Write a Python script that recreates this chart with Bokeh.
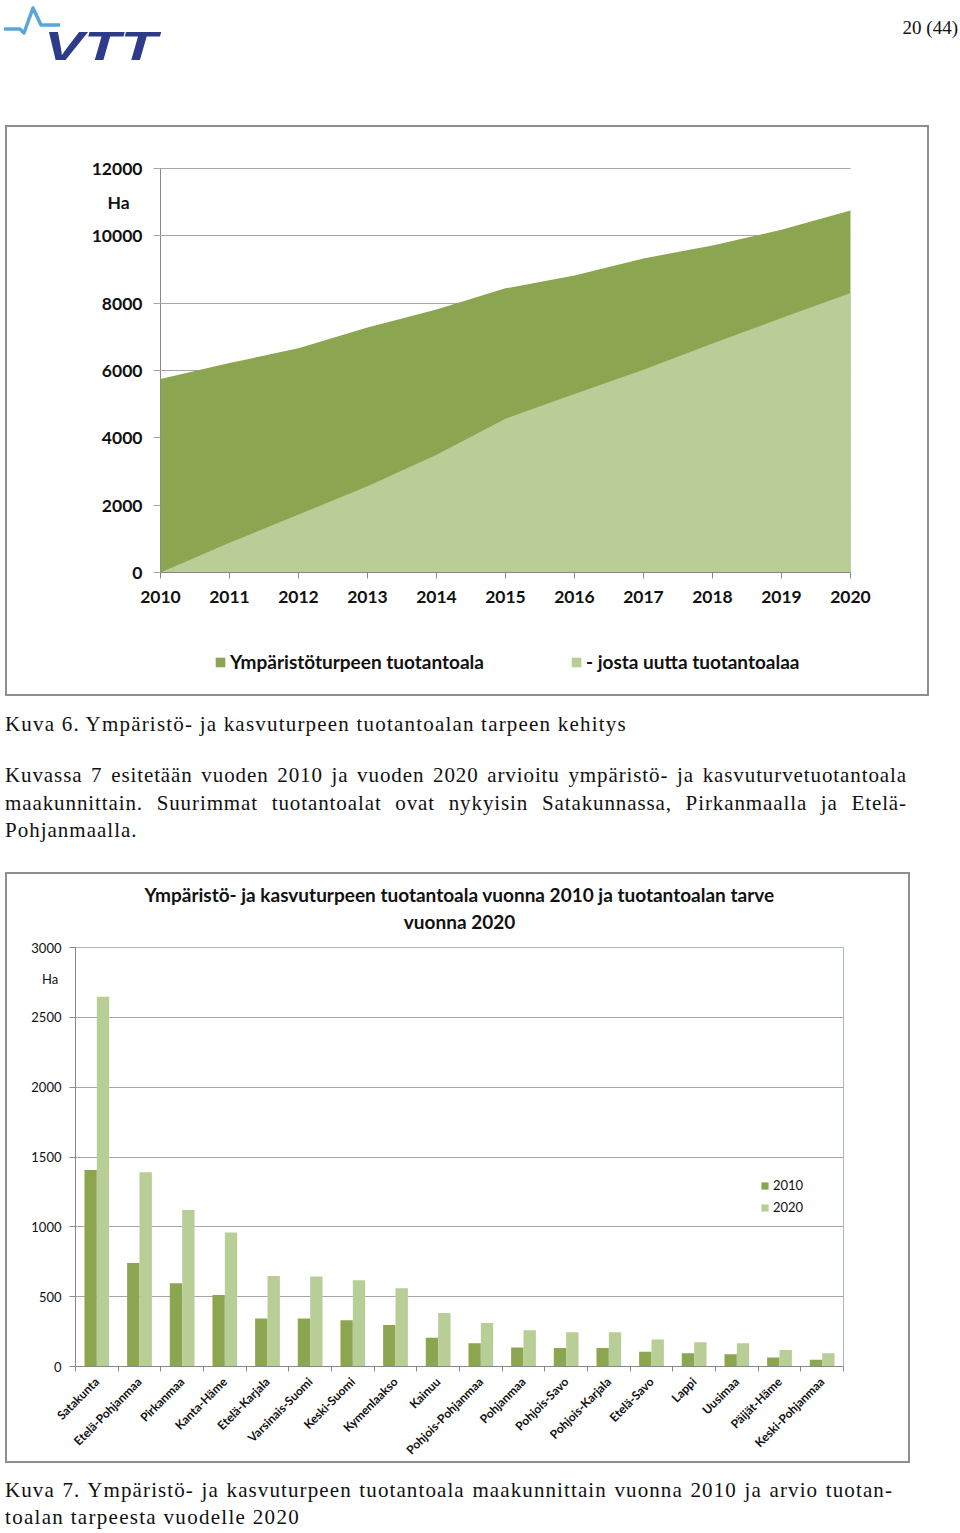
import math
from bokeh.plotting import figure
from bokeh.models import (Div, Range1d, FixedTicker, Legend, LegendItem, Title, LinearAxis,
                          ColumnDataSource)
from bokeh.layouts import column
from bokeh.transform import dodge
from bokeh.embed import file_html
from bokeh.resources import INLINE

# ---------------- data: Kuva 6 ----------------
years = [2010, 2011, 2012, 2013, 2014, 2015, 2016, 2017, 2018, 2019, 2020]
production_area = [5750, 6220, 6660, 7280, 7810, 8440, 8820, 9330, 9710, 10180, 10750]
new_area = [0, 880, 1720, 2560, 3500, 4570, 5300, 6020, 6800, 7560, 8300]
chart1_yticks = [0, 2000, 4000, 6000, 8000, 10000, 12000]
chart1_legend = ["Ympäristöturpeen tuotantoala", "- josta uutta tuotantoalaa"]
chart1_unit = "Ha"
chart1_unit_at = 11000

# ---------------- data: Kuva 7 ----------------
regions = ["Satakunta", "Etelä-Pohjanmaa", "Pirkanmaa", "Kanta-Häme", "Etelä-Karjala",
           "Varsinais-Suomi", "Keski-Suomi", "Kymenlaakso", "Kainuu", "Pohjois-Pohjanmaa",
           "Pohjanmaa", "Pohjois-Savo", "Pohjois-Karjala", "Etelä-Savo", "Lappi", "Uusimaa",
           "Päijät-Häme", "Keski-Pohjanmaa"]
area_2010 = [1407, 741, 596, 512, 343, 343, 331, 298, 205, 167, 136, 133, 133, 105, 95, 88, 64, 48]
area_2020 = [2648, 1391, 1121, 960, 648, 645, 617, 560, 383, 312, 260, 245, 245, 193, 174, 167, 119, 95]
chart2_yticks = [0, 500, 1000, 1500, 2000, 2500, 3000]
series_names = ["2010", "2020"]
chart2_title = ["Ympäristö- ja kasvuturpeen tuotantoala vuonna 2010 ja tuotantoalan tarve",
                "vuonna 2020"]
chart2_unit = "Ha"
chart2_unit_at = 2771

DARK = "#8BA551"
LIGHT = "#B9CD96"
GRID = "#A6A6A6"
AXIS = "#888888"
FONT = "Lato"
SERIF = "'Liberation Serif', 'Times New Roman', serif"
FRAME_BORDER = {"border": "2px solid #8E8E8E"}
NB = "\u00a0"
# the plot frame of Kuva 6 is larger than the data area so that the axis
# labels and the legend can be drawn inside it
Y1_FLOOR, Y1_CEIL = -3505, 12386
X1_LO, X1_HI = 2008.957, 2020.435


def no_frame_align(p):
    try:
        p.frame_align = False
    except Exception:
        pass


# ---------------- header ----------------
header_html = f"""
<div style="position:relative;width:960px;height:125px;">
  <svg style="position:absolute;left:0px;top:0px;overflow:visible" width="170" height="70">
    <polyline points="4,29 20,29 24,33 33,8 41,25 60,25" fill="none" stroke="#5AA5DA"
      stroke-width="3.5" stroke-linejoin="round"/>
    <text x="44" y="60" font-family="Liberation Sans" font-weight="bold" font-style="italic"
      font-size="41" fill="#2E3A8A" textLength="113" lengthAdjust="spacingAndGlyphs">VTT</text>
  </svg>
  <div style="position:absolute;right:2px;top:17px;font-family:{SERIF};font-size:19px;
    line-height:22px;color:#111;">20 (44)</div>
</div>
"""
header = Div(text=header_html, width=960, height=125, margin=0)

# ---------------- Kuva 6 ----------------
p1 = figure(width=924, height=571, x_range=Range1d(X1_LO, X1_HI),
            y_range=Range1d(Y1_FLOOR, Y1_CEIL),
            output_backend="svg", toolbar_location=None, min_border_left=81,
            min_border_right=51, min_border_top=28, min_border_bottom=8,
            outline_line_color=None, margin=(0, 0, 0, 5), title_location=None)
no_frame_align(p1)
p1.styles = FRAME_BORDER
r_total = p1.varea(x=years, y1=0, y2=production_area, fill_color=DARK)
r_new = p1.varea(x=years, y1=0, y2=new_area, fill_color=LIGHT)

p1.xgrid.visible = False
p1.ygrid.visible = False
xa = p1.xaxis[0]
xa.ticker = FixedTicker(ticks=years)
xa.fixed_location = 0
xa.bounds = (years[0], years[-1])
xa.axis_line_color = AXIS
xa.major_tick_line_color = AXIS
xa.minor_tick_line_color = None
xa.major_tick_in = 0
xa.major_tick_out = 6
xa.major_label_standoff = 13
xa.major_label_text_font = FONT
xa.major_label_text_font_size = "17.5px"
xa.major_label_text_font_style = "bold"
xa.major_label_text_color = "#111111"

# y axis at 2010: its long ticks, drawn beneath the areas, act as the grid lines
ya = p1.yaxis[0]
ya.ticker = FixedTicker(ticks=chart1_yticks)
ya.fixed_location = years[0]
ya.bounds = (0, 12000)
ya.level = "underlay"
ya.major_label_overrides = {t: "" for t in chart1_yticks}
ya.axis_line_color = AXIS
ya.major_tick_line_color = GRID
ya.minor_tick_line_color = None
ya.major_tick_in = 690
ya.major_tick_out = 7
ya.major_label_standoff = 0
# labels and the unit
ya_labels = LinearAxis(ticker=FixedTicker(ticks=chart1_yticks + [chart1_unit_at]),
                       major_label_overrides={chart1_unit_at: chart1_unit + NB * 3},
                       fixed_location=years[0],
                       axis_line_color=None, major_tick_line_color=None,
                       minor_tick_line_color=None, major_tick_in=0, major_tick_out=0,
                       major_label_standoff=18, major_label_text_font=FONT,
                       major_label_text_font_size="17.5px", major_label_text_font_style="bold",
                       major_label_text_color="#111111")
p1.add_layout(ya_labels, "left")

leg1 = Legend(items=[LegendItem(label=chart1_legend[0], renderers=[r_total]),
                     LegendItem(label=chart1_legend[1], renderers=[r_new])],
              orientation="horizontal", location=(126, 17), spacing=86, padding=0, margin=0,
              glyph_width=12, glyph_height=12, label_standoff=4, label_height=20,
              label_text_font=FONT, label_text_font_size="19px", label_text_font_style="bold",
              label_text_color="#111111", border_line_color=None, background_fill_alpha=0)
p1.add_layout(leg1)

# ---------------- texts between charts ----------------
J = "text-align:justify;text-align-last:justify;"
text_html = f"""
<div style="position:relative;width:960px;height:176px;font-family:{SERIF};font-size:21px;
  line-height:24px;color:#111;">
  <div style="position:absolute;left:5px;top:16px;white-space:nowrap;letter-spacing:1.2px;">Kuva 6. Ympäristö- ja kasvuturpeen tuotantoalan tarpeen kehitys</div>
  <div style="position:absolute;left:5px;top:67px;width:902px;letter-spacing:0.9px;{J}">Kuvassa 7 esitetään vuoden 2010 ja vuoden 2020 arvioitu ympäristö- ja kasvuturvetuotantoala</div>
  <div style="position:absolute;left:5px;top:95px;width:902px;letter-spacing:0.9px;{J}">maakunnittain. Suurimmat tuotantoalat ovat nykyisin Satakunnassa, Pirkanmaalla ja Etelä-</div>
  <div style="position:absolute;left:5px;top:122px;white-space:nowrap;letter-spacing:1px;">Pohjanmaalla.</div>
</div>
"""
text_div = Div(text=text_html, width=960, height=176, margin=0)

# ---------------- Kuva 7 ----------------
n = len(regions)
centers = [i + 0.5 for i in range(n)]
bounds = list(range(n + 1))
p2 = figure(width=905, height=591, x_range=Range1d(0, n), y_range=Range1d(0, 3000),
            output_backend="svg", toolbar_location=None, min_border_left=68,
            min_border_right=69, min_border_top=73, min_border_bottom=98,
            outline_line_color="#A9B8C8", margin=(0, 0, 0, 5), title_location=None)
no_frame_align(p2)
p2.styles = FRAME_BORDER
src = ColumnDataSource(dict(pos=centers, region=regions, a2010=area_2010, a2020=area_2020))
r10 = p2.vbar(x=dodge("pos", -0.145), top="a2010", width=0.29, source=src,
              fill_color=DARK, line_color=None)
r20 = p2.vbar(x=dodge("pos", 0.145), top="a2020", width=0.29, source=src,
              fill_color=LIGHT, line_color=None)

xb = p2.xaxis[0]
xb.ticker = FixedTicker(ticks=centers, minor_ticks=bounds)
xb.major_label_overrides = {c: r for c, r in zip(centers, regions)}
xb.major_tick_line_color = None
xb.major_tick_out = 0
xb.minor_tick_line_color = AXIS
xb.minor_tick_in = 0
xb.minor_tick_out = 5
xb.major_label_orientation = math.pi / 4
xb.major_label_standoff = 8
xb.major_label_text_font = FONT
xb.major_label_text_font_size = "12px"
xb.major_label_text_font_style = "bold"
xb.major_label_text_color = "#111111"
xb.axis_line_color = AXIS

yb = p2.yaxis[0]
yb.ticker = FixedTicker(ticks=chart2_yticks)
yb.major_label_overrides = {t: "" for t in chart2_yticks}
yb.axis_line_color = AXIS
yb.major_tick_line_color = AXIS
yb.minor_tick_line_color = None
yb.major_tick_in = 0
yb.major_tick_out = 6
yb.major_label_standoff = 0
yb_labels = LinearAxis(ticker=FixedTicker(ticks=chart2_yticks + [chart2_unit_at]),
                       major_label_overrides={chart2_unit_at: chart2_unit + NB},
                       axis_line_color=None, major_tick_line_color=None,
                       minor_tick_line_color=None, major_tick_in=0, major_tick_out=0,
                       major_label_standoff=8, major_label_text_font=FONT,
                       major_label_text_font_size="13px", major_label_text_color="#111111")
p2.add_layout(yb_labels, "left")
p2.xgrid.visible = False
p2.ygrid.grid_line_color = GRID


def make_title(text, standoff, fallback):
    kw = dict(text=text, align="center", text_font=FONT, text_font_size="19px",
              text_font_style="bold", text_color="#111111")
    try:
        return Title(standoff=standoff, **kw)
    except Exception:
        return Title(standoff=fallback, **kw)


p2.add_layout(make_title(chart2_title[1], 30, 17), "above")
p2.add_layout(make_title(chart2_title[0], -26, 0), "above")

leg2 = Legend(items=[LegendItem(label=series_names[0], renderers=[r10]),
                     LegendItem(label=series_names[1], renderers=[r20])],
              location=(685, 151), spacing=6, padding=0, margin=0,
              glyph_width=9, glyph_height=9, label_standoff=4, label_height=12,
              label_text_font=FONT, label_text_font_size="13px", label_text_color="#111111",
              border_line_color=None, background_fill_alpha=0)
p2.add_layout(leg2)

# ---------------- caption Kuva 7 ----------------
cap_html = f"""
<div style="position:relative;width:960px;height:70px;font-family:{SERIF};font-size:21px;
  line-height:24px;color:#111;">
  <div style="position:absolute;left:5px;top:15px;width:888px;letter-spacing:1.1px;{J}">Kuva 7. Ympäristö- ja kasvuturpeen tuotantoala maakunnittain vuonna 2010 ja arvio tuotan-</div>
  <div style="position:absolute;left:5px;top:42px;white-space:nowrap;letter-spacing:1.3px;">toalan tarpeesta vuodelle 2020</div>
</div>
"""
cap_div = Div(text=cap_html, width=960, height=70, margin=0)

layout = column(header, p1, text_div, p2, cap_div, spacing=0, margin=0)
open("out.html", "w").write(file_html(layout, INLINE))
